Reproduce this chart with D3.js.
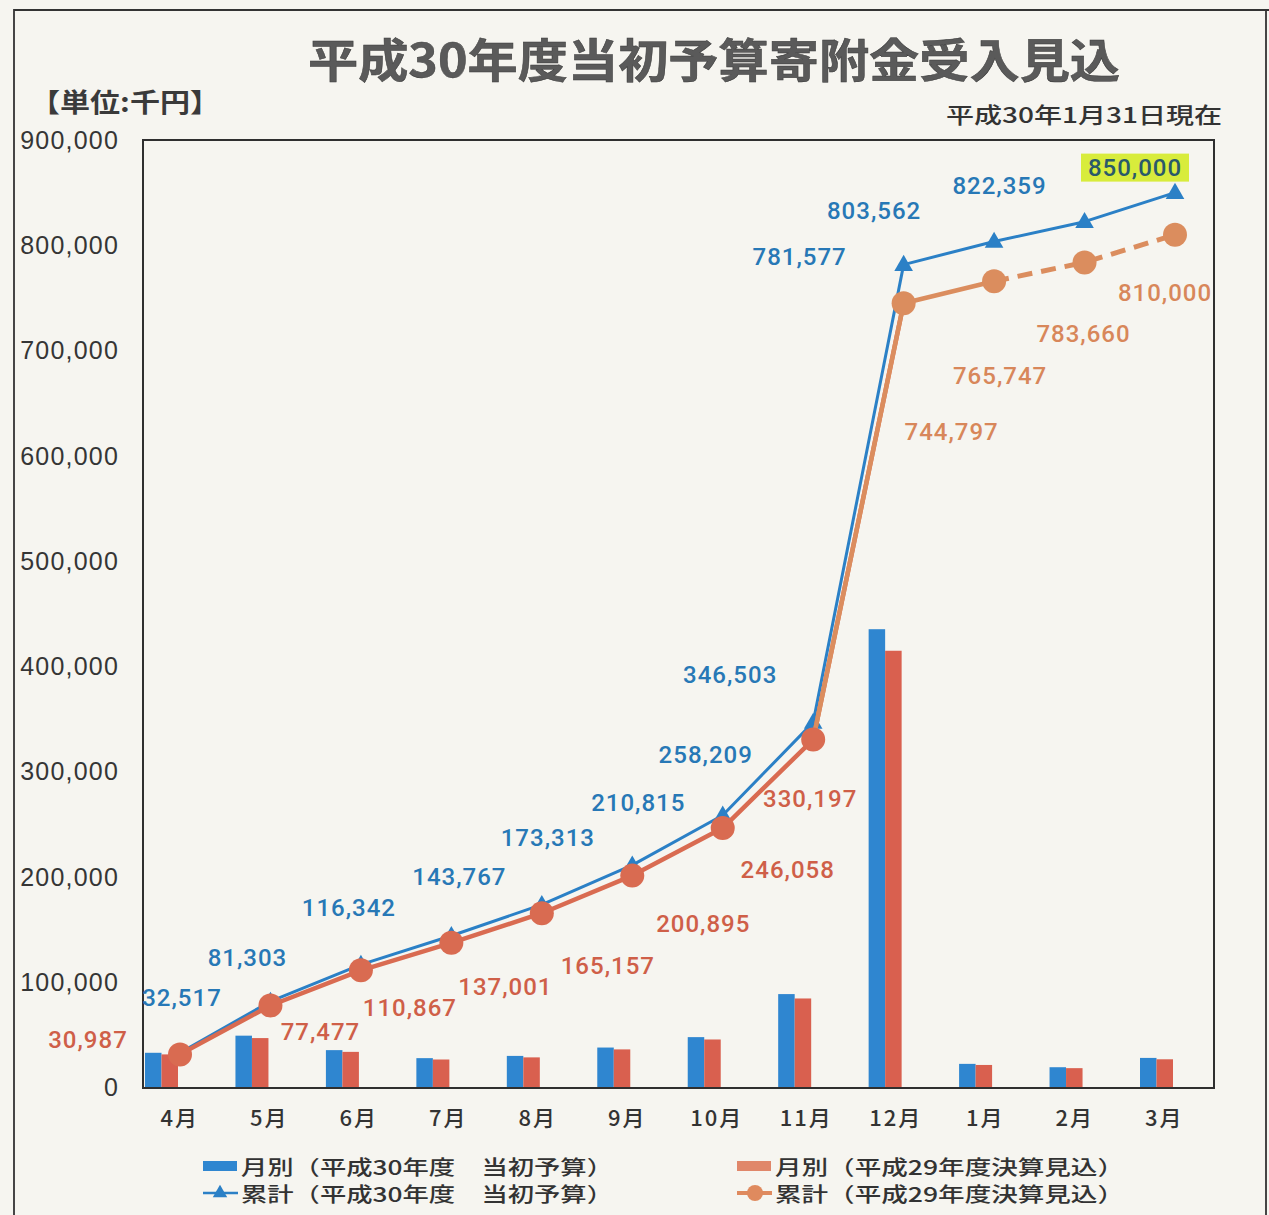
<!DOCTYPE html>
<html lang="ja">
<head>
<meta charset="utf-8">
<script src="https://cdn.jsdelivr.net/npm/d3@7"></script>
<style>
  html, body { margin: 0; padding: 0; background: #f6f5f0; }
  svg { display: block; }
</style>
</head>
<body>
<svg id="chart" width="1269" height="1215"></svg>
<script>
// 月
const months = ["4月","5月","6月","7月","8月","9月","10月","11月","12月","1月","2月","3月"];
// 月別（平成30年度 当初予算）千円
const monthlyH30 = [32517, 48786, 35039, 27425, 29546, 37502, 47394, 88294, 435074, 21985, 18797, 27641];
// 月別（平成29年度決算見込）千円
const monthlyH29 = [30987, 46490, 33390, 26134, 28156, 35738, 45163, 84139, 414600, 20950, 17913, 26340];
// 累計（平成30年度 当初予算）千円
const cumulativeH30 = [32517, 81303, 116342, 143767, 173313, 210815, 258209, 346503, 781577, 803562, 822359, 850000];
// 累計（平成29年度決算見込）千円
const cumulativeH29 = [30987, 77477, 110867, 137001, 165157, 200895, 246058, 330197, 744797, 765747, 783660, 810000];
// 目盛
const yTicks = [0, 100000, 200000, 300000, 400000, 500000, 600000, 700000, 800000, 900000];

const W = 1269, H = 1215;
const frame = { left: 143, right: 1214, top: 140, bottom: 1088 };

const svg = d3.select("#chart");
const numFont = "Roboto, 'Liberation Sans', Arial, sans-serif";
const axisFont = "'Liberation Sans', Arial, sans-serif";
const jpFont = "'Noto Sans CJK JP', 'Noto Sans', sans-serif";

const fmt = d3.format(",");

const blue = "#2b80c6";
const blueBar = "#2f86d0";
const redBar = "#d9604f";
const redEarly = "#d96b51";
const redLate = "#db8d5e";
const blueText = "#2778b6";
const redTextEarly = "#cf5f48";
const redTextLate = "#d8875a";

// スケール
const y = d3.scaleLinear().domain([0, 900000]).range([1087, 140]);
const xBand = d3.scaleBand().domain(months).range([135, 1209]);
const xPt = d3.scalePoint().domain(months).range([180, 1175]);
const xBar = d3.scaleBand().domain(["h30", "h29"]).range([0, 33]);

// 外枠
svg.append("path")
  .attr("d", `M14,${H} L14,10 L${W},10 M1266,10 L1266,${H}`)
  .attr("fill", "none").attr("stroke", "#333").attr("stroke-width", 1.8);

// タイトル
svg.append("text")
  .attr("x", 308).attr("y", 77)
  .attr("textLength", 812).attr("lengthAdjust", "spacingAndGlyphs")
  .attr("font-family", jpFont).attr("font-size", 46).attr("font-weight", 700)
  .attr("fill", "#5a5a5a").attr("stroke", "#3a3a3a").attr("stroke-width", 0.5)
  .text("平成30年度当初予算寄附金受入見込");

svg.append("text")
  .attr("x", 30).attr("y", 112)
  .attr("textLength", 190).attr("lengthAdjust", "spacingAndGlyphs")
  .attr("font-family", jpFont).attr("font-size", 26).attr("font-weight", 700)
  .attr("fill", "#3a3a3a")
  .text("【単位:千円】");

svg.append("text")
  .attr("x", 946).attr("y", 123)
  .attr("textLength", 276).attr("lengthAdjust", "spacingAndGlyphs")
  .attr("font-family", jpFont).attr("font-size", 22).attr("font-weight", 500)
  .attr("fill", "#333")
  .text("平成30年1月31日現在");

// Y軸ラベル
svg.append("g").selectAll("text").data(yTicks).join("text")
  .attr("x", 119).attr("y", d => y(d))
  .attr("text-anchor", "end").attr("dominant-baseline", "central")
  .attr("font-family", axisFont).attr("font-size", 25).attr("letter-spacing", 1.2)
  .attr("fill", "#353535")
  .text(d => fmt(d));

// X軸ラベル
svg.append("g").selectAll("text").data(months).join("text")
  .attr("x", d => xBand(d) + xBand.bandwidth() / 2).attr("y", 1116)
  .attr("text-anchor", "middle").attr("dominant-baseline", "central")
  .attr("font-family", jpFont).attr("font-size", 22).attr("font-weight", 500).attr("letter-spacing", 2)
  .attr("fill", "#333")
  .text(d => d);

// 月別の棒
const barG = svg.append("g");
const barData = months.map((m, i) => ({ m, h30: monthlyH30[i], h29: monthlyH29[i] }));
const barGroup = barG.selectAll("g").data(barData).join("g")
  .attr("transform", d => `translate(${xPt(d.m) - 35},0)`);
barGroup.append("rect")
  .attr("x", xBar("h30")).attr("width", xBar.bandwidth())
  .attr("y", d => y(d.h30)).attr("height", d => y(0) - y(d.h30))
  .attr("fill", blueBar);
barGroup.append("rect")
  .attr("x", xBar("h29")).attr("width", xBar.bandwidth())
  .attr("y", d => y(d.h29)).attr("height", d => y(0) - y(d.h29))
  .attr("fill", redBar);

// グラフ枠
svg.append("rect")
  .attr("x", frame.left).attr("y", frame.top)
  .attr("width", frame.right - frame.left).attr("height", frame.bottom - frame.top)
  .attr("fill", "none").attr("stroke", "#2f2f2f").attr("stroke-width", 2);

// 累計（平成30年度）
const lineGen = d3.line().x(d => xPt(d.m)).y(d => y(d.v));
const blueData = months.map((m, i) => ({ m, v: cumulativeH30[i] }));
const redData = months.map((m, i) => ({ m, v: cumulativeH29[i] }));

svg.append("path").datum(blueData)
  .attr("d", lineGen).attr("fill", "none")
  .attr("stroke", blue).attr("stroke-width", 3).attr("stroke-linejoin", "round");

const tri = d3.symbol().type(d3.symbolTriangle).size(150);
svg.append("g").selectAll("path").data(blueData).join("path")
  .attr("d", tri)
  .attr("transform", d => `translate(${xPt(d.m)},${y(d.v) + 1})`)
  .attr("fill", blue);

// 累計（平成29年度）: 1月までは実績、以降は見込（破線）
const lastActual = 9;
svg.append("path").datum(redData.slice(0, 9))
  .attr("d", lineGen).attr("fill", "none")
  .attr("stroke", redEarly).attr("stroke-width", 4.5).attr("stroke-linejoin", "round");
svg.append("path").datum(redData.slice(7, lastActual + 1))
  .attr("d", lineGen).attr("fill", "none")
  .attr("stroke", redLate).attr("stroke-width", 4.5).attr("stroke-linejoin", "round");
svg.append("path").datum(redData.slice(lastActual))
  .attr("d", lineGen).attr("fill", "none")
  .attr("stroke", redLate).attr("stroke-width", 5).attr("stroke-dasharray", "15,9");

svg.append("g").selectAll("circle").data(redData).join("circle")
  .attr("cx", d => xPt(d.m)).attr("cy", d => y(d.v)).attr("r", 12)
  .attr("fill", (d, i) => i < 8 ? redEarly : redLate);

// データラベル（マーカーからの相対位置）
const blueLabelOffset = [[2,-55],[-23,-43],[-12,-57],[8,-59],[6,-67],[6,-62],[-17,-60],[-83,-47],[-104,-8],[-120,-30],[-85,-36],[-40,-25]];
const redLabelOffset = [[-92,-14],[50,27],[49,38],[54,44],[66,53],[71,48],[65,42],[-3,59],[48,129],[6,95],[-1,72],[-10,58]];

// 目標額のハイライト
const goal = blueData[11];
svg.append("rect")
  .attr("x", xPt(goal.m) + blueLabelOffset[11][0] - 54)
  .attr("y", y(goal.v) + blueLabelOffset[11][1] - 14)
  .attr("width", 108).attr("height", 28)
  .attr("fill", "#d8ec3c");

svg.append("g").selectAll("text").data(blueData).join("text")
  .attr("x", (d, i) => xPt(d.m) + blueLabelOffset[i][0])
  .attr("y", (d, i) => y(d.v) + blueLabelOffset[i][1])
  .attr("text-anchor", "middle").attr("dominant-baseline", "central")
  .attr("font-family", numFont).attr("font-size", 24).attr("font-weight", 500).attr("letter-spacing", 1)
  .attr("fill", (d, i) => i === 11 ? "#2a5a6a" : blueText)
  .text(d => fmt(d.v));

svg.append("g").selectAll("text").data(redData).join("text")
  .attr("x", (d, i) => xPt(d.m) + redLabelOffset[i][0])
  .attr("y", (d, i) => y(d.v) + redLabelOffset[i][1])
  .attr("text-anchor", "middle").attr("dominant-baseline", "central")
  .attr("font-family", numFont).attr("font-size", 24).attr("font-weight", 500).attr("letter-spacing", 1)
  .attr("fill", (d, i) => i < 8 ? redTextEarly : redTextLate)
  .text(d => fmt(d.v));

// 凡例
const legend = svg.append("g").attr("font-family", jpFont).attr("font-size", 20).attr("font-weight", 500).attr("fill", "#333");
const legendItems = [
  { x: 203, y: 1166, kind: "bar", color: blueBar, label: "月別（平成30年度　当初予算）", len: 372 },
  { x: 737, y: 1166, kind: "bar", color: "#e0876a", label: "月別（平成29年度決算見込）", len: 349 },
  { x: 203, y: 1193, kind: "tri", color: blue, label: "累計（平成30年度　当初予算）", len: 372 },
  { x: 737, y: 1193, kind: "dot", color: "#df8a5e", label: "累計（平成29年度決算見込）", len: 349 }
];
legendItems.forEach(it => {
  const g = legend.append("g");
  if (it.kind === "bar") {
    g.append("rect").attr("x", it.x).attr("y", it.y - 5).attr("width", 34).attr("height", 10).attr("fill", it.color);
  } else {
    g.append("line").attr("x1", it.x).attr("x2", it.x + 35).attr("y1", it.y).attr("y2", it.y)
      .attr("stroke", it.color).attr("stroke-width", it.kind === "dot" ? 4 : 2.5);
    if (it.kind === "tri") {
      g.append("path").attr("d", d3.symbol().type(d3.symbolTriangle).size(90))
        .attr("transform", `translate(${it.x + 17},${it.y})`).attr("fill", it.color);
    } else {
      g.append("circle").attr("cx", it.x + 18).attr("cy", it.y).attr("r", 8).attr("fill", it.color);
    }
  }
  g.append("text").attr("x", it.x + 38).attr("y", it.y)
    .attr("dominant-baseline", "central")
    .attr("textLength", it.len).attr("lengthAdjust", "spacingAndGlyphs")
    .text(it.label);
});
</script>
</body>
</html>
